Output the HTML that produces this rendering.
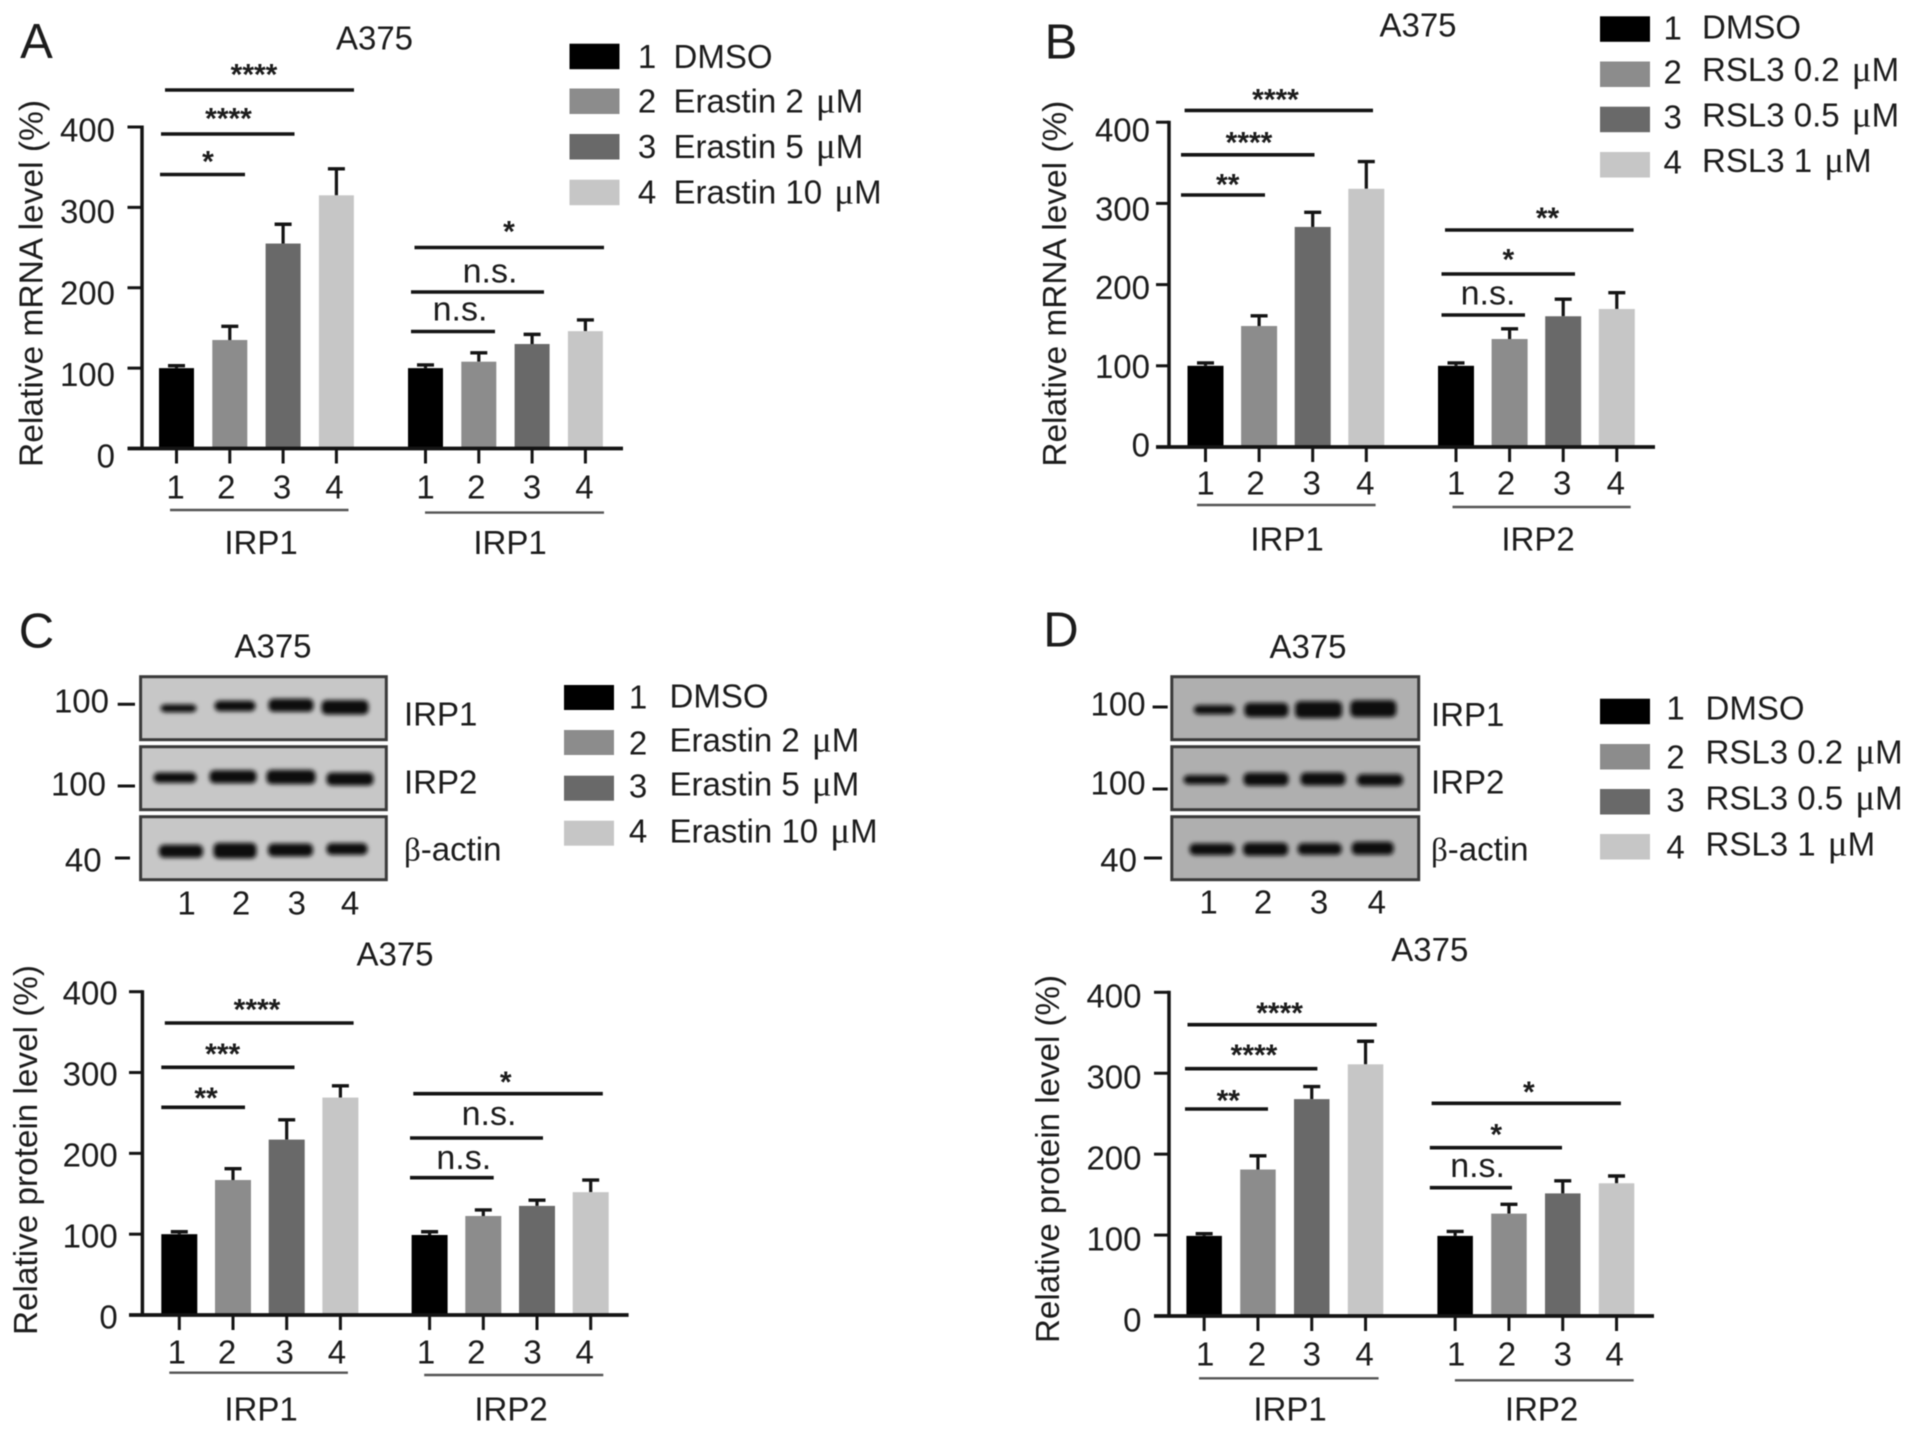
<!DOCTYPE html>
<html lang="en">
<head>
<meta charset="utf-8">
<title>A375 IRP1 and IRP2 expression panels</title>
<style>
html,body{margin:0;padding:0;background:#fff;width:1913px;height:1433px;overflow:hidden}
svg{display:block;filter:blur(0.65px)}
text{font-family:"Liberation Sans",sans-serif;fill:#1c1c1c}
</style>
</head>
<body>
<svg id="figure" xmlns="http://www.w3.org/2000/svg" width="1913" height="1433" viewBox="0 0 1913 1433">
<defs><filter id="bandBlur" x="-30%" y="-150%" width="160%" height="400%"><feGaussianBlur stdDeviation="2.1"/></filter></defs>
</svg>
<script>
// ---- chart data ----
const categories = ['1', '2', '3', '4'];
const yTickValues = [0, 100, 200, 300, 400];
const barColors = ['#000000', '#8c8c8c', '#696969', '#c6c6c6'];

const panelAGroups = ['IRP1', 'IRP1'];
const panelAValues = [100, 135, 255, 315, 100, 108, 130, 146];
const panelAErrors = [3, 17, 24, 33, 4, 11, 12, 14];

const panelBGroups = ['IRP1', 'IRP2'];
const panelBValues = [100, 149, 271, 318, 100, 133, 161, 170];
const panelBErrors = [3.5, 12.5, 18, 33.5, 3.5, 12.5, 21, 20];

const panelCGroups = ['IRP1', 'IRP2'];
const panelCValues = [100, 167, 217, 269, 99, 122.5, 135, 152];
const panelCErrors = [3, 14, 24.5, 14.5, 4, 7.5, 7, 15];

const panelDGroups = ['IRP1', 'IRP2'];
const panelDValues = [99, 181, 268, 311, 99, 126.5, 151.5, 164];
const panelDErrors = [2.7, 17, 15.5, 28.5, 5.5, 11.5, 15.5, 9];

const eraLegend = ['DMSO', 'Erastin 2 μM', 'Erastin 5 μM', 'Erastin 10 μM'];
const rslLegend = ['DMSO', 'RSL3 0.2 μM', 'RSL3 0.5 μM', 'RSL3 1 μM'];

// ---- drawing helpers ----
const svg = document.getElementById('figure');
const NS = 'http://www.w3.org/2000/svg';
const INK = '#141414';
const FS = 33;

function rect(parent, name, x, y, w, h, fill) {
  const el = document.createElementNS(NS, 'rect');
  
  
  el.setAttribute('x', x);
  el.setAttribute('y', y);
  el.setAttribute('width', w);
  el.setAttribute('height', h);
  el.setAttribute('fill', fill);
  parent.appendChild(el);
  return el;
}
function line(parent, name, x1, y1, x2, y2, sw, color) {
  const el = document.createElementNS(NS, 'line');
  
  
  el.setAttribute('x1', x1);
  el.setAttribute('y1', y1);
  el.setAttribute('x2', x2);
  el.setAttribute('y2', y2);
  el.setAttribute('stroke', color || INK);
  el.setAttribute('stroke-width', sw);
  parent.appendChild(el);
  return el;
}
// cy = visual centre of capital/digit text
function label(parent, name, str, x, cy, anchor, size) {
  const el = document.createElementNS(NS, 'text');
  
  
  const fs = size || FS;
  el.setAttribute('x', x);
  el.setAttribute('y', cy + fs * 0.35);
  el.setAttribute('text-anchor', anchor || 'middle');
  el.setAttribute('font-size', fs);
  el.innerHTML = str.replace('μ', '<tspan font-family="Liberation Serif" font-size="37" dx="3">μ</tspan>').replace('β', '<tspan font-family="Liberation Serif">β</tspan>');
  parent.appendChild(el);
  return el;
}
function group(parent, name) {
  const el = document.createElementNS(NS, 'g');
  
  
  parent.appendChild(el);
  return el;
}

function drawBarPanel(name, values, errors, groups, L) {
  const root = group(svg, name);
  const yOf = v => L.y0 - v * (L.y0 - L.yTop) / 400;
  const labelYOf = v => L.labelY0 - v * (L.labelY0 - L.labelYTop) / 400;
  const barLeft = i => L.groupStart[Math.floor(i / 4)] + (i % 4) * L.step;
  const barCentre = i => barLeft(i) + L.barW / 2;

  values.forEach((v, i) => {
    const c = barCentre(i);
    const top = yOf(v + errors[i]);
    line(root, 'error-stem', c, yOf(v), c, top, 3.2);
    line(root, 'error-cap', c - 8.5, top, c + 8.5, top, 3.4);
    rect(root, 'bar-' + groups[Math.floor(i / 4)].toLowerCase() + '-' + categories[i % 4], barLeft(i), yOf(v), L.barW, L.y0 - yOf(v), barColors[i % 4]);
    line(root, 'x-tick', c, L.y0, c, L.y0 + 15, 3);
    label(root, 'x-tick-label', categories[i % 4], c - 1 + L.xLabelShift[i], L.xLabelY, 'middle');
  });

  line(root, 'y-axis', L.axisX, L.yTop - 1.5, L.axisX, L.y0 + 1.5, 3.5);
  line(root, 'x-axis', L.tickX, L.y0, L.endX, L.y0, 3.8);
  yTickValues.forEach(v => {
    line(root, 'y-tick', L.tickX, yOf(v), L.axisX, yOf(v), 3);
    label(root, 'y-tick-label', String(v), L.labelRight, labelYOf(v), 'end');
  });

  const title = label(root, 'y-axis-title', L.yTitle, 0, 0, 'middle');
  title.setAttribute('x', 0);
  title.setAttribute('y', 0);
  title.setAttribute('textLength', L.yTitleBottom - L.yTitleTop);
  title.setAttribute('lengthAdjust', 'spacingAndGlyphs');
  title.setAttribute('transform', 'translate(' + (L.yTitleX + 11) + ',' + (L.yTitleTop + L.yTitleBottom) / 2 + ') rotate(-90)');

  label(root, 'chart-title', 'A375', L.titleX, L.titleY, 'middle');

  L.groupLines.forEach((g, i) => {
    line(root, 'group-underline', g[0], g[2], g[1], g[2], 2.4, '#555');
    label(root, 'group-label', groups[i], g[3], L.groupLabelY, 'middle');
  });

  L.brackets.forEach(b => {
    line(root, 'significance-line', b[0], b[2], b[1], b[2], 3.6);
    const t = document.createElementNS(NS, 'text');
    
    
    const isNs = b[3] === 'n.s.';
    t.setAttribute('x', b[4]);
    t.setAttribute('y', b[5] + (isNs ? 8.5 : 14.5));
    t.setAttribute('text-anchor', 'middle');
    t.setAttribute('font-size', isNs ? 34 : 30);
    t.setAttribute('font-weight', isNs ? 'normal' : 'bold');
    t.textContent = b[3];
    root.appendChild(t);
  });
}

function drawLegend(name, items, L) {
  const root = group(svg, name);
  items.forEach((item, i) => {
    rect(root, 'legend-swatch-' + (i + 1), L.swatchX, L.swatchY[i], 50, L.swatchH, barColors[i]);
    label(root, 'legend-number-' + (i + 1), String(i + 1), L.numX, L.numY[i], 'middle');
    label(root, 'legend-text-' + (i + 1), item, L.textX, L.textY[i], 'start');
  });
}

function drawBlot(name, B) {
  const root = group(svg, name);
  label(root, 'blot-title', 'A375', B.titleX, B.titleY, 'middle');
  B.rows.forEach((r, ri) => {
    rect(root, 'blot-background-' + r.name, B.x, r.y, B.w, 63, B.bg);
    const frame = rect(root, 'blot-frame-' + r.name, B.x, r.y, B.w, 63, 'none');
    frame.setAttribute('stroke', '#3a3a3a');
    frame.setAttribute('stroke-width', 3);
    r.bands.forEach((b, i) => {
      const band = rect(root, 'blot-band-' + r.name + '-' + (i + 1), b[0] - b[2] / 2, b[1] - b[3] * 0.65, b[2], b[3] * 1.3, '#0a0a0a');
      band.setAttribute('rx', 5);
      band.setAttribute('filter', 'url(#bandBlur)');
    });
    label(root, 'molecular-weight-label', r.mw, r.mwRight, r.mwY, 'end');
    line(root, 'molecular-weight-tick', r.tick[0], r.tick[2], r.tick[1], r.tick[2], 3);
    label(root, 'blot-protein-label', r.label, B.labelX, r.labelY, 'start');
  });
  B.lanes.forEach((x, i) => {
    label(root, 'lane-label', categories[i], x, B.laneY, 'middle');
  });
}

// ---- panel letters ----
const lettersG = group(svg, 'panel-letters');
label(lettersG, 'panel-letter-a', 'A', 36.5, 41, 'middle', 49);
label(lettersG, 'panel-letter-b', 'B', 1061, 41.5, 'middle', 49);
label(lettersG, 'panel-letter-c', 'C', 36.5, 630.5, 'middle', 49);
label(lettersG, 'panel-letter-d', 'D', 1061, 629.5, 'middle', 49);

// ---- bar charts ----
drawBarPanel('panel-a-chart', panelAValues, panelAErrors, panelAGroups, {
  y0: 448.5, yTop: 127, axisX: 142, tickX: 127.5, endX: 623, labelRight: 115, labelY0: 456, labelYTop: 130,
  groupStart: [159, 408], step: 53.3, barW: 35, xLabelY: 487, groupLabelY: 542.6,
  xLabelShift: [0, -2.5, 0, -1, 1, -1.5, 1, 0],
  yTitle: 'Relative mRNA level (%)', yTitleX: 31.5, yTitleTop: 100, yTitleBottom: 467,
  titleX: 374.5, titleY: 38,
  groupLines: [[170, 348.5, 510, 261], [425, 604, 512.6, 510]],
  brackets: [
    [165, 354, 90, '****', 254, 70], [161, 294.5, 134, '****', 228.5, 114], [160, 245, 174.5, '*', 208, 157],
    [414.5, 604, 247.5, '*', 509, 227], [411, 544, 292, 'n.s.', 490, 274], [411, 495, 331.5, 'n.s.', 460, 312]
  ]
});
drawBarPanel('panel-b-chart', panelBValues, panelBErrors, panelBGroups, {
  y0: 447, yTop: 122.2, axisX: 1169, tickX: 1156, endX: 1655, labelRight: 1150, labelY0: 445, labelYTop: 130,
  groupStart: [1187.5, 1438], step: 53.6, barW: 36, xLabelY: 483, groupLabelY: 539,
  xLabelShift: [1, -2.5, 0, 0, 1, -2.5, 0, 0],
  yTitle: 'Relative mRNA level (%)', yTitleX: 1055, yTitleTop: 100.7, yTitleBottom: 466.7,
  titleX: 1418, titleY: 25,
  groupLines: [[1197, 1375.6, 505, 1287], [1452.5, 1630.7, 507, 1538]],
  brackets: [
    [1184.6, 1373, 110.4, '****', 1275.5, 95], [1181, 1314.5, 154.8, '****', 1249, 138], [1181, 1265, 195, '**', 1227.7, 180],
    [1445, 1633.6, 230, '**', 1547.5, 213.7], [1441.5, 1575, 274, '*', 1508.4, 254.8], [1441.5, 1525, 315, 'n.s.', 1488, 296]
  ]
});
drawBarPanel('panel-c-chart', panelCValues, panelCErrors, panelCGroups, {
  y0: 1315, yTop: 991.7, axisX: 142.4, tickX: 129, endX: 628.6, labelRight: 117.7, labelY0: 1316.7, labelYTop: 993,
  groupStart: [161.3, 411.6], step: 53.7, barW: 36, xLabelY: 1352, groupLabelY: 1409,
  xLabelShift: [-1.5, -5, -1, -2.5, -2.5, -6, -3.5, -5],
  yTitle: 'Relative protein level (%)', yTitleX: 25.8, yTitleTop: 965, yTitleBottom: 1335,
  titleX: 395, titleY: 954,
  groupLines: [[169.3, 347.9, 1372.7, 261], [424.2, 603.3, 1375, 511]],
  brackets: [
    [164.8, 353.6, 1023, '****', 257, 1005], [161.3, 294.5, 1067.3, '***', 222.7, 1049.3], [161.3, 245, 1107.3, '**', 206, 1093.3],
    [413.3, 602.8, 1093.7, '*', 505.7, 1077.7], [410, 543, 1138, 'n.s.', 489, 1116.7], [410, 493.7, 1177.7, 'n.s.', 463.8, 1160.7]
  ]
});
drawBarPanel('panel-d-chart', panelDValues, panelDErrors, panelDGroups, {
  y0: 1316, yTop: 992.3, axisX: 1169, tickX: 1154, endX: 1654, labelRight: 1141.5, labelY0: 1320, labelYTop: 995.7,
  groupStart: [1186.4, 1437.4], step: 53.8, barW: 35.5, xLabelY: 1354, groupLabelY: 1409,
  xLabelShift: [2, 0, 1, 0, 2, -1, 1, -1],
  yTitle: 'Relative protein level (%)', yTitleX: 1047.8, yTitleTop: 975, yTitleBottom: 1343,
  titleX: 1429.8, titleY: 949.5,
  groupLines: [[1199, 1378.6, 1378.3, 1290], [1454.9, 1633.7, 1380.3, 1541.6]],
  brackets: [
    [1187.5, 1376.8, 1024.7, '****', 1279.6, 1008.3], [1185, 1317.4, 1068.7, '****', 1254, 1050.7], [1185, 1268, 1109, '**', 1228.3, 1096],
    [1431.6, 1620.9, 1103.3, '*', 1528.8, 1087.3], [1429.8, 1562, 1147.7, '*', 1496.2, 1130], [1429.8, 1512, 1187.7, 'n.s.', 1477.6, 1168.3]
  ]
});

// ---- legends ----
drawLegend('panel-a-legend', eraLegend, {
  swatchX: 569.5, swatchH: 25.5, swatchY: [43.7, 88.5, 134, 179.7],
  numX: 647, numY: [56.3, 100.7, 146.3, 191.9], textX: 673.5, textY: [56.3, 100.7, 146.3, 191.9]
});
drawLegend('panel-b-legend', rslLegend, {
  swatchX: 1600, swatchH: 25.5, swatchY: [16.3, 61.5, 106.7, 152],
  numX: 1672.7, numY: [27.8, 72, 116.7, 162], textX: 1702, textY: [27, 69.5, 115, 160.5]
});
drawLegend('panel-c-legend', eraLegend, {
  swatchX: 564, swatchH: 25, swatchY: [685, 730, 775.7, 820.7],
  numX: 638, numY: [696.7, 743, 785.7, 831], textX: 669.5, textY: [696, 740, 784, 831]
});
drawLegend('panel-d-legend', rslLegend, {
  swatchX: 1600, swatchH: 25.5, swatchY: [698.7, 744, 789, 834],
  numX: 1675.6, numY: [708, 756.7, 800, 846.7], textX: 1705.5, textY: [708, 751.7, 798, 844]
});

// ---- western blots ----
drawBlot('panel-c-blot', {
  x: 140.6, w: 245.7, bg: '#c7c7c7', titleX: 273, titleY: 646, labelX: 404, laneY: 903,
  lanes: [186.6, 241, 296.8, 350],
  rows: [
    { name: 'irp1', label: 'IRP1', mw: '100', y: 676.7, labelY: 714, mwRight: 109, mwY: 701, tick: [117.7, 135, 704.3],
      bands: [[178.5, 708.3, 36, 6], [235, 706, 41, 8], [291, 705.3, 45, 10], [345, 707.3, 47, 11]] },
    { name: 'irp2', label: 'IRP2', mw: '100', y: 746.7, labelY: 781.7, mwRight: 106, mwY: 784, tick: [117.7, 135, 786],
      bands: [[175, 777.7, 43, 8], [233, 776.7, 47, 10], [291, 777, 49, 11], [350, 779, 47, 10]] },
    { name: 'beta-actin', label: 'β-actin', mw: '40', y: 816.7, labelY: 849, mwRight: 101.6, mwY: 860, tick: [115, 130, 858],
      bands: [[181, 851.3, 44, 10], [235, 850.7, 43, 12], [290.5, 850, 45, 10], [347, 849, 41, 9]] }
  ]
});
drawBlot('panel-d-blot', {
  x: 1171.8, w: 246.9, bg: '#afafaf', titleX: 1308, titleY: 646.5, labelX: 1431, laneY: 902,
  lanes: [1208.5, 1263, 1319, 1376.8],
  rows: [
    { name: 'irp1', label: 'IRP1', mw: '100', y: 676.7, labelY: 714.3, mwRight: 1145.6, mwY: 704, tick: [1152.6, 1167.7, 707],
      bands: [[1214.3, 709.7, 41, 7], [1266.4, 710, 44, 11], [1318.6, 709.7, 47, 13], [1373.3, 708.7, 46, 13]] },
    { name: 'irp2', label: 'IRP2', mw: '100', y: 746.7, labelY: 781.7, mwRight: 1145.6, mwY: 783, tick: [1152.6, 1167.7, 789],
      bands: [[1206, 779.7, 45, 7], [1266, 779.3, 45, 10], [1323, 779, 45, 10], [1380, 780, 46, 9]] },
    { name: 'beta-actin', label: 'β-actin', mw: '40', y: 816.7, labelY: 849, mwRight: 1137, mwY: 860, tick: [1144, 1162, 858],
      bands: [[1212, 849.3, 45, 9], [1265.6, 849.3, 45, 10], [1319.7, 849, 44, 9], [1372.7, 848.3, 42, 10]] }
  ]
});
</script>
</body>
</html>
